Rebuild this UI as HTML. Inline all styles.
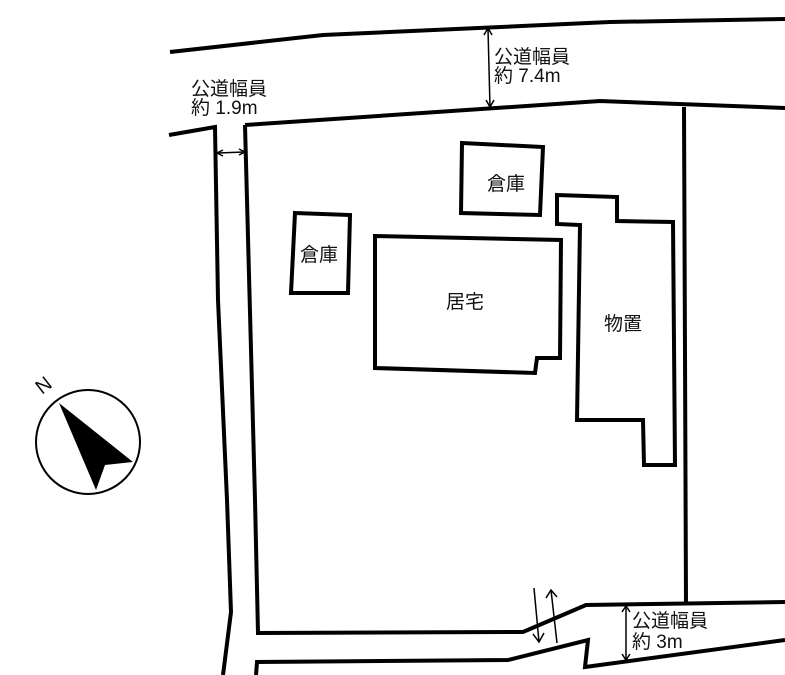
<!DOCTYPE html>
<html><head><meta charset="utf-8"><style>
html,body{margin:0;padding:0;background:#fff;}
svg{display:block;}
text{font-family:"Liberation Sans","Noto Sans CJK JP",sans-serif;fill:#111;}
</style></head><body>
<svg width="785" height="675" viewBox="0 0 785 675" xmlns="http://www.w3.org/2000/svg">
<g fill="none" stroke="#000" stroke-width="4" stroke-linejoin="miter">
<polyline points="170,52 323,35 610,22 785,19"/>
<polyline points="169,135 215,127 218,300 227,500 231,612 223,675"/>
<polyline points="245,125 600,101 785,108"/>
<polyline points="245,125 255,500 258,633 523,632 586,605 785,602"/>
<line x1="684" y1="107" x2="686" y2="604"/>
<polyline points="256,675 257,662 508,660 588,640 585,667 785,640"/>
<polygon points="462,143 543,147 540,215 461,213"/>
<polygon points="295,213 350,215 348,293 291,293"/>
<polygon points="375,236 561,240 560,358 537,358 535,373 375,368"/>
<polygon points="557,195 617,197 617,221 673,222 675,465 644,465 643,420 577,420 580,225 557,224"/>
</g>
<g stroke="#000" stroke-width="1.5" fill="none">
<line x1="488" y1="29" x2="490" y2="107"/>
<polyline points="484,35 488,28 492,35"/>
<polyline points="486,100 490,107 494,100"/>
<line x1="218" y1="153" x2="244" y2="152"/>
<polyline points="223,150 217,153 223,156"/>
<polyline points="239,149 245,152 239,155"/>
<line x1="626" y1="606" x2="626" y2="660"/>
<polyline points="622,612 626,606 630,612"/>
<polyline points="622,654 626,660 630,654"/>
<line x1="534" y1="588" x2="539" y2="642"/>
<polyline points="533,634 539,642 544,633"/>
<line x1="551" y1="590" x2="557" y2="643"/>
<polyline points="546,598 551,590 557,597"/>
</g>
<g font-size="19">
<text x="494" y="63">公道幅員</text>
<text x="494" y="82">約 7.4m</text>
<text x="191" y="95">公道幅員</text>
<text x="191" y="114">約 1.9m</text>
<text x="632" y="627">公道幅員</text>
<text x="632" y="648">約 3m</text>
<text x="487" y="190">倉庫</text>
<text x="300" y="261">倉庫</text>
<text x="446" y="308">居宅</text>
<text x="604" y="330">物置</text>
</g>
<circle cx="88" cy="442" r="52" fill="none" stroke="#000" stroke-width="2"/>
<polygon points="59,403 133,462 105,465 96,490" fill="#000"/>
<text x="0" y="0" font-size="20" transform="translate(42,395) rotate(-38)">N</text>
</svg>
</body></html>
